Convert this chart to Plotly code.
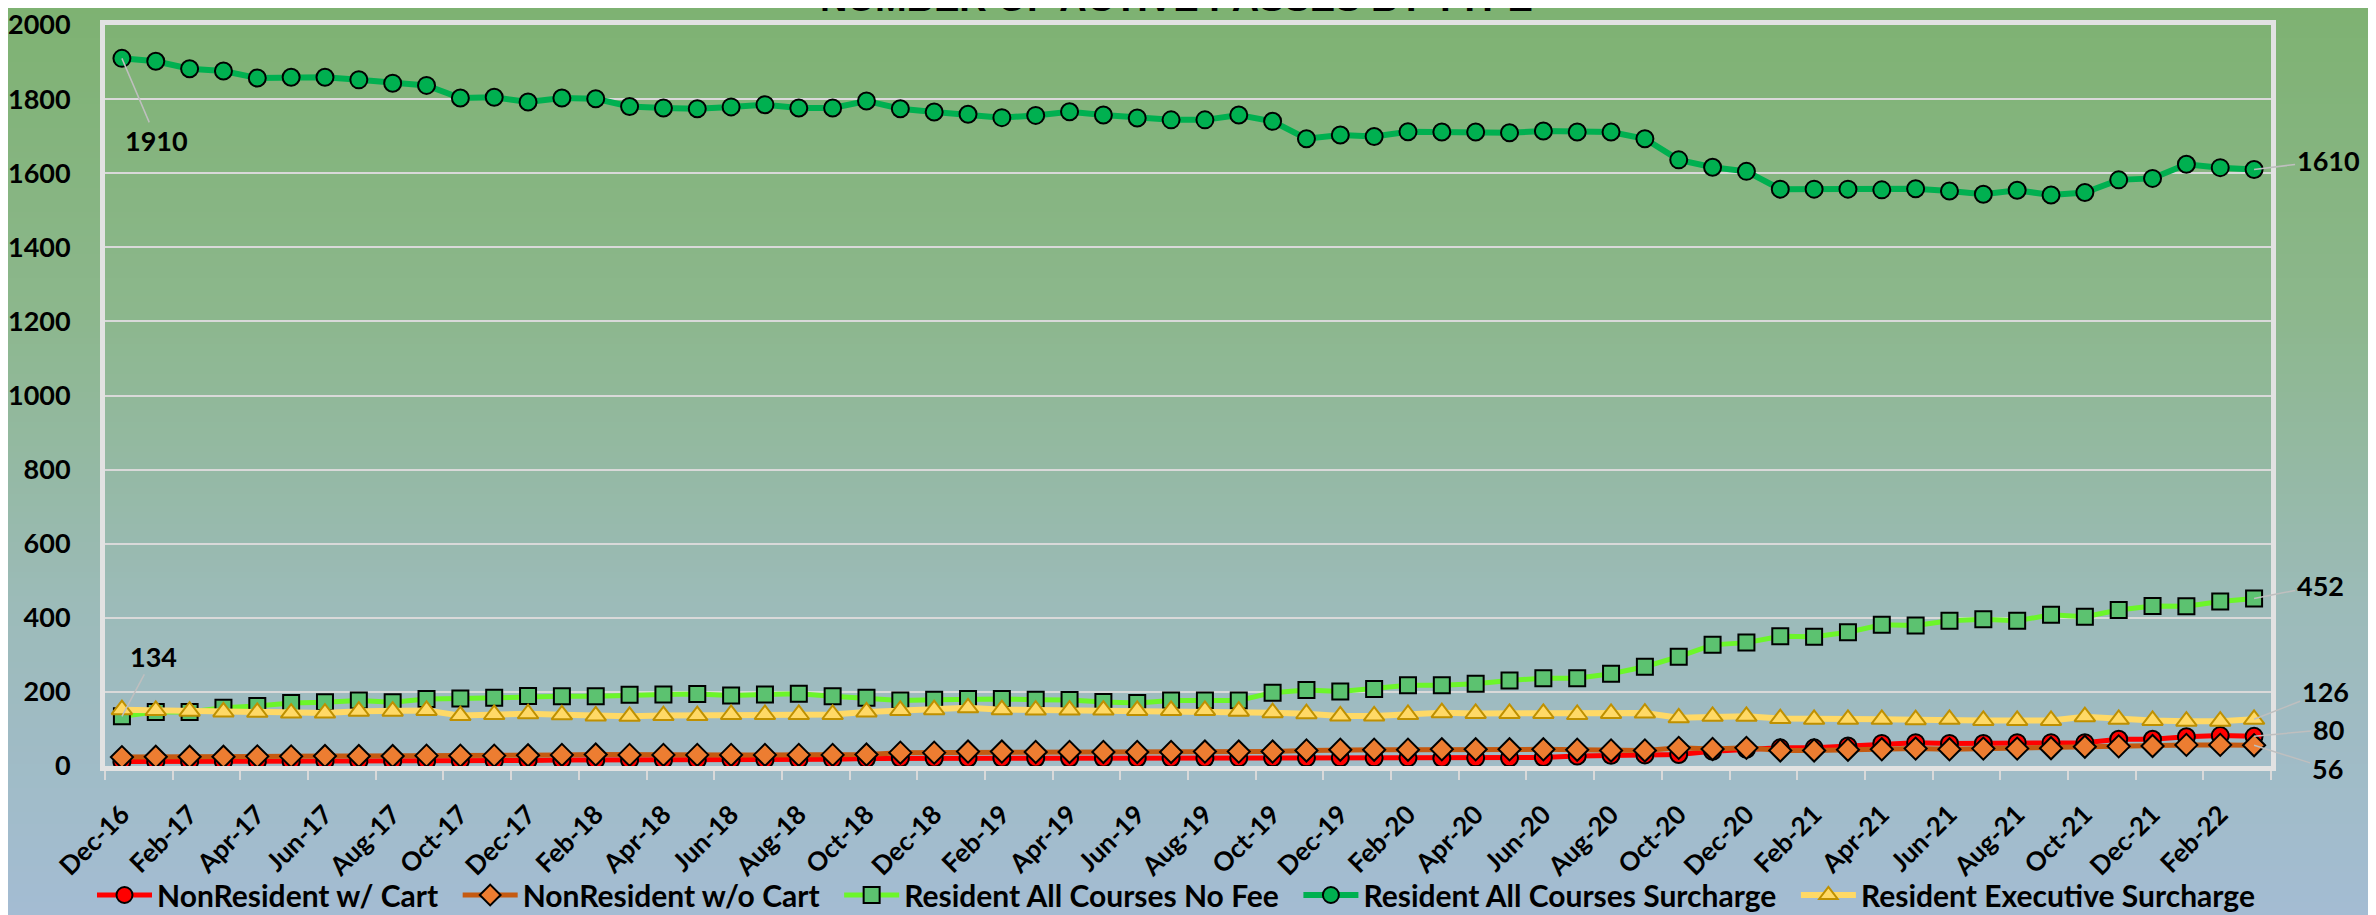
import plotly.graph_objects as go

months = [
    "Dec-16",
    "Jan-17", "Feb-17", "Mar-17", "Apr-17", "May-17", "Jun-17", "Jul-17", "Aug-17", "Sep-17", "Oct-17", "Nov-17", "Dec-17",
    "Jan-18", "Feb-18", "Mar-18", "Apr-18", "May-18", "Jun-18", "Jul-18", "Aug-18", "Sep-18", "Oct-18", "Nov-18", "Dec-18",
    "Jan-19", "Feb-19", "Mar-19", "Apr-19", "May-19", "Jun-19", "Jul-19", "Aug-19", "Sep-19", "Oct-19", "Nov-19", "Dec-19",
    "Jan-20", "Feb-20", "Mar-20", "Apr-20", "May-20", "Jun-20", "Jul-20", "Aug-20", "Sep-20", "Oct-20", "Nov-20", "Dec-20",
    "Jan-21", "Feb-21", "Mar-21", "Apr-21", "May-21", "Jun-21", "Jul-21", "Aug-21", "Sep-21", "Oct-21", "Nov-21", "Dec-21",
    "Jan-22", "Feb-22", "Mar-22",
]

nonres_cart = [12, 12, 12, 12, 12, 12, 13, 13, 13, 13, 14, 14, 15, 16, 16, 16,
               16, 16, 17, 17, 17, 18, 20, 21, 21, 21, 21, 21, 21, 21, 21, 21,
               21, 22, 22, 22, 22, 22, 22, 21, 22, 22, 23, 27, 29, 30, 31, 40,
               45, 49, 49, 54, 61, 63, 61, 61, 63, 63, 63, 72, 72, 79, 82, 80]

nonres_nocart = [24, 25, 25, 25, 26, 26, 27, 27, 27, 28, 28, 28, 29, 30, 31, 30,
                 30, 30, 30, 30, 30, 30, 31, 36, 36, 39, 39, 38, 38, 38, 38, 38,
                 39, 39, 39, 42, 44, 44, 44, 45, 45, 45, 45, 44, 42, 42, 49, 46,
                 49, 42, 42, 44, 45, 47, 45, 47, 47, 48, 52, 53, 54, 57, 57, 56]

res_nofee = [134, 146, 146, 157, 162, 170, 172, 177, 172, 181, 182, 184, 189, 188, 188, 192,
             193, 194, 190, 193, 195, 188, 184, 177, 179, 181, 181, 179, 178, 173, 170, 177,
             177, 177, 198, 205, 201, 208, 218, 218, 222, 231, 237, 237, 249, 268, 295, 327,
             333, 350, 349, 361, 381, 379, 392, 396, 392, 408, 403, 421, 432, 431, 444, 452]

res_surcharge = [1910, 1902, 1882, 1876, 1857, 1859, 1859, 1852, 1843, 1837, 1803, 1805, 1792, 1803, 1801, 1780,
                 1776, 1774, 1779, 1785, 1776, 1776, 1795, 1774, 1765, 1759, 1750, 1756, 1766, 1757, 1749, 1744,
                 1744, 1757, 1740, 1693, 1703, 1699, 1712, 1711, 1711, 1709, 1714, 1711, 1711, 1693, 1636, 1616,
                 1605, 1557, 1557, 1557, 1555, 1558, 1552, 1543, 1554, 1541, 1548, 1582, 1586, 1624, 1615, 1610]

res_exec = [152, 150, 148, 146, 145, 143, 143, 148, 148, 150, 136, 139, 141, 138, 135, 134,
            136, 136, 139, 139, 139, 139, 146, 150, 152, 157, 152, 151, 151, 151, 150, 150,
            150, 148, 144, 141, 135, 135, 139, 144, 142, 142, 142, 139, 142, 143, 130, 134,
            134, 128, 126, 126, 126, 125, 126, 123, 123, 123, 133, 126, 123, 121, 121, 126]

title_text = "NUMBER OF ACTIVE PASSES BY TYPE"

W, H = 2376, 915
ML, MR, MT, MB = 97, 113, 17, 157
PW, PH = W - ML - MR, H - MT - MB

FONT = "Lato, 'Liberation Sans', sans-serif"
x = list(range(len(months)))

fig = go.Figure()

series = [
    ("NonResident w/ Cart", nonres_cart, "#ff0000", 5, "circle", 17, "#ff0000", "#000000"),
    ("NonResident w/o Cart", nonres_nocart, "#c55a11", 5, "diamond", 17, "#ed7d31", "#000000"),
    ("Resident All Courses No Fee", res_nofee, "#6cf52a", 5, "square", 16, "#5cc270", "#000000"),
    ("Resident All Courses Surcharge", res_surcharge, "#00b050", 6, "circle", 17, "#00b050", "#000000"),
    ("Resident Executive Surcharge", res_exec, "#ffd966", 6, "triangle-up", 18, "#ffd966", "#bf9000"),
]
PADNAME = "\u00a0\u00a0"
for i, (name, vals, lc, lw, sym, ms, mf, mo) in enumerate(series):
    label = name + (PADNAME if i < len(series) - 1 else "")
    fig.add_trace(go.Scatter(
        x=x, y=vals, name=label, mode="lines+markers",
        line=dict(color=lc, width=lw),
        marker=dict(symbol=sym, size=ms, color=mf, line=dict(color=mo, width=2)),
    ))

def px_to_py(py):
    return (H - MB - py) / PH

def px_to_px(pxv):
    return (pxv - ML) / PW

stops = [(0, (126, 178, 114)), (300, (140, 183, 140)), (600, (156, 187, 185)), (915, (164, 188, 212))]
def col_at(py):
    for (y0, c0), (y1, c1) in zip(stops[:-1], stops[1:]):
        if y0 <= py <= y1:
            t = (py - y0) / (y1 - y0)
            return "rgb(%d,%d,%d)" % tuple(round(a + (b - a) * t) for a, b in zip(c0, c1))
    return "rgb(%d,%d,%d)" % stops[-1][1]

shapes = []
step = 6
for py in range(0, H, step):
    shapes.append(dict(type="rect", xref="paper", yref="paper",
                       x0=px_to_px(0), x1=px_to_px(W), y0=px_to_py(py + step + 1), y1=px_to_py(py),
                       fillcolor=col_at(py + step / 2), line=dict(width=0), layer="below"))
shapes.append(dict(type="line", xref="paper", yref="paper",
                   x0=px_to_px(2365), x1=px_to_px(2365), y0=px_to_py(H), y1=px_to_py(0),
                   line=dict(color="#e4e4e4", width=4), layer="below"))

last = len(x) - 1
annotations = [
    dict(x=0, y=res_surcharge[0], text=str(res_surcharge[0]), ax=35, ay=82),
    dict(x=last, y=res_surcharge[-1], text=str(res_surcharge[-1]), ax=74, ay=-9),
    dict(x=0, y=res_nofee[0], text=str(res_nofee[0]), ax=32, ay=-60),
    dict(x=last, y=res_nofee[-1], text=str(res_nofee[-1]), ax=66, ay=-13),
    dict(x=last, y=res_exec[-1], text=str(res_exec[-1]), ax=71, ay=-28),
    dict(x=last, y=nonres_cart[-1], text=str(nonres_cart[-1]), ax=74, ay=-7),
    dict(x=last, y=nonres_nocart[-1], text=str(nonres_nocart[-1]), ax=73, ay=23),
]
for a in annotations:
    a.update(xref="x", yref="y", showarrow=True, arrowhead=0, arrowwidth=1.5,
             arrowcolor="#bfbfbf", standoff=0,
             font=dict(family=FONT, size=27, color="#000000", weight=700))

annotations.append(dict(
    text=title_text, xref="paper", yref="paper", x=px_to_px(1168), y=px_to_py(13),
    xanchor="center", yanchor="bottom", showarrow=False,
    font=dict(family="'Liberation Sans', Arial, sans-serif", size=38, color="#000000", weight=900),
))

fig.update_layout(
    width=W, height=H,
    margin=dict(l=ML, r=MR, t=MT, b=MB, pad=0, autoexpand=False),
    paper_bgcolor="rgb(145,184,160)",
    plot_bgcolor="rgba(0,0,0,0)",
    shapes=shapes,
    annotations=annotations,
    showlegend=True,
    legend=dict(orientation="h", xref="container", x=1168 / W, xanchor="center",
                yref="container", y=1 - 887 / H, yanchor="middle",
                font=dict(family=FONT, size=30, color="#000000", weight=700),
                itemwidth=55, bgcolor="rgba(0,0,0,0)", traceorder="normal"),
    xaxis=dict(
        automargin=False,
        range=[-0.5, len(x) - 0.5],
        tickmode="array", tickvals=x[::2], ticktext=months[::2],
        tickangle=-45, ticks="", showgrid=False, zeroline=False,
        showline=True, mirror=True, linecolor="#e2e2e2", linewidth=5,
        tickfont=dict(family=FONT, size=26, color="#000000", weight=700),
        ticklabelstandoff=18, ticklabeloverflow="allow",
        minor=dict(tickmode="array", tickvals=[v - 0.5 for v in x[::2]] + [len(x) - 0.5],
                   ticks="outside", ticklen=9, tickwidth=2, tickcolor="#d9d9d9", showgrid=False),
    ),
    yaxis=dict(
        automargin=False,
        range=[0, 2000], tickmode="linear", tick0=0, dtick=200,
        showgrid=True, gridcolor="#d9d9d9", gridwidth=2, zeroline=False,
        showline=True, mirror=True, linecolor="#e2e2e2", linewidth=5,
        ticks="outside", ticklen=24, tickcolor="rgba(0,0,0,0)",
        ticklabeloverflow="allow",
        tickfont=dict(family=FONT, size=27, color="#000000", weight=700),
    ),
)

fig.write_html("out.html")
